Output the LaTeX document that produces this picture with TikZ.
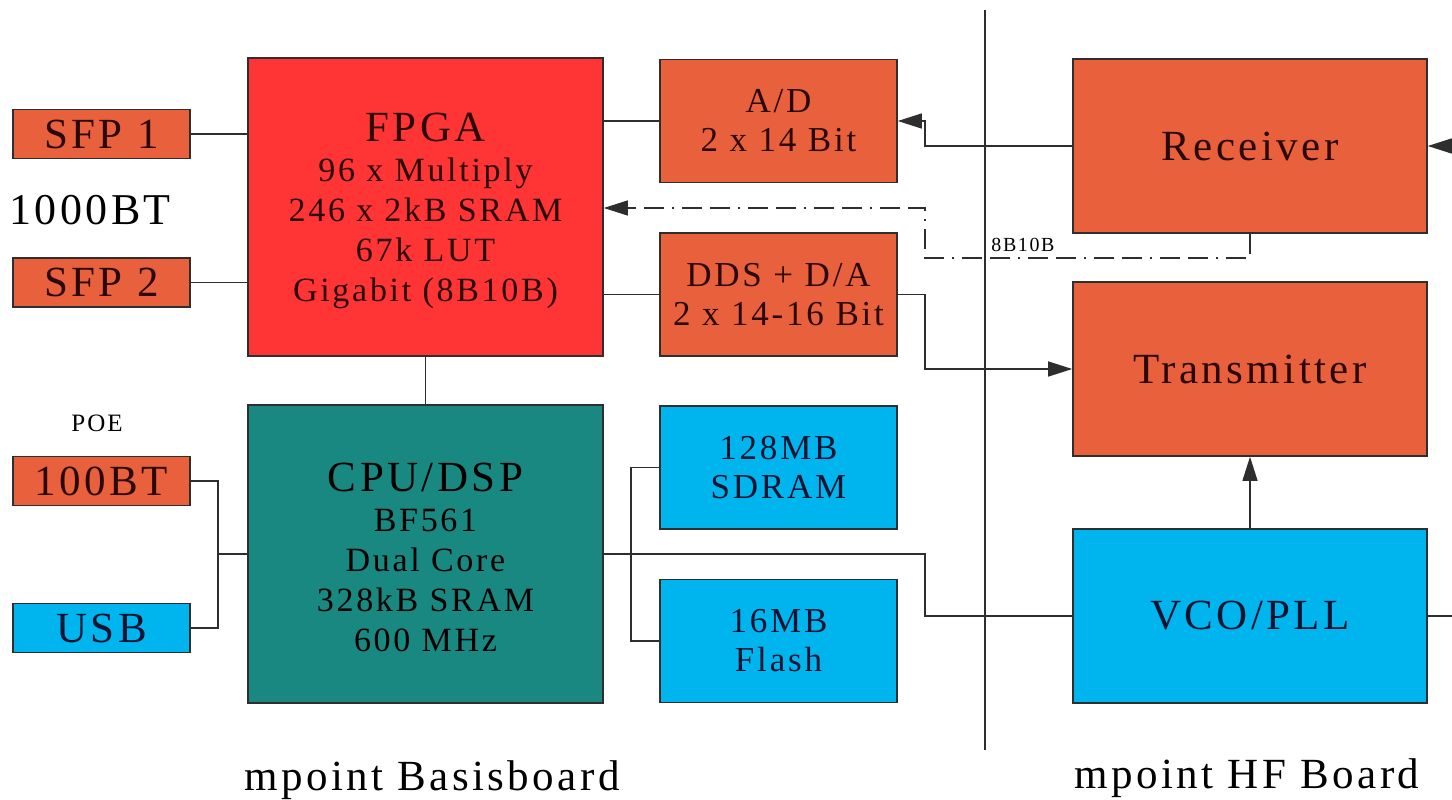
\documentclass[tikz,border=0pt]{standalone}
\usepackage{fontspec}
\setmainfont[LetterSpace=8]{Liberation Serif}
\usetikzlibrary{arrows.meta}
\definecolor{orng}{HTML}{E8603C}
\definecolor{fpgared}{HTML}{FF3434}
\definecolor{tealbox}{HTML}{188880}
\definecolor{skybox}{HTML}{00B4EE}
\definecolor{edgecol}{HTML}{2E2E2E}
\definecolor{inkred}{HTML}{2A0806}
\definecolor{inkblue}{HTML}{0A1430}

\begin{document}
\begin{tikzpicture}[x=1pt,y=-1pt,
  blk/.style={draw=edgecol, line width=1.6pt, inner sep=0pt, align=center, anchor=center},
  port/.style={blk, fill=orng, text=inkred, minimum width=177pt, minimum height=49pt, font=\fontsize{43}{43}\selectfont},
  portb/.style={port, fill=skybox, text=inkblue},
  chip/.style={blk, minimum width=355pt, minimum height=298pt, font=\fontsize{34}{40}\selectfont},
  mid/.style={blk, fill=orng, text=inkred, minimum width=237pt, minimum height=123pt, font=\fontsize{35}{39}\selectfont},
  midb/.style={mid, fill=skybox, text=inkblue},
  rf/.style={blk, fill=orng, text=inkred, minimum width=354pt, minimum height=174pt, font=\fontsize{43}{43}\selectfont},
  rfb/.style={rf, fill=skybox, text=inkblue},
  wire/.style={draw=edgecol, line width=1.3pt},
  sig/.style={wire, -{Triangle[length=24pt,width=15pt]}},
  dashdot/.style={wire, line width=1.1pt, dash pattern=on 20pt off 8pt on 20pt off 8pt on 2pt off 8pt},
  plain/.style={inner sep=0pt, text=black},
  ttl/.style={font=\fontsize{43}{43}\selectfont}
]
\useasboundingbox (0,0) rectangle (1452,800);
\fill[white] (0,0) rectangle (1452,800);

% interfaces on the left
\node[port]  (sfp1)  at (101.5,134) {SFP 1};
\node[port]  (sfp2)  at (101.5,282.5) {SFP 2};
\node[plain, font=\fontsize{44}{44}\selectfont] (gbe) at (90,210) {1000BT};
\node[plain, font=\fontsize{25}{25}\selectfont] (poe) at (97,423) {POE};
\node[port]  (fe)    at (101.5,481) {100BT};
\node[portb] (usb)   at (101.5,628) {USB};

% main processors (the strut lowers the text block a little)
\node[chip, fill=fpgared, text=inkred] (fpga) at (425.5,207)
  {\rule{0pt}{36pt}{\fontsize{43}{43}\selectfont FPGA}\\96 x Multiply\\246 x 2kB SRAM\\67k LUT\\Gigabit (8B10B)};
\node[chip, fill=tealbox, text=black] (cpu) at (425.5,554)
  {\rule{0pt}{36pt}{\fontsize{43}{43}\selectfont CPU/DSP}\\BF561\\Dual Core\\328kB SRAM\\600 MHz};

% converters and memory
\node[mid]  (adc)   at (778.5,121)   {A/D\\2 x 14 Bit};
\node[mid]  (dds)   at (778.5,294.5) {DDS + D/A\\2 x 14-16 Bit};
\node[midb] (sdram) at (778.5,467.5) {128MB\\SDRAM};
\node[midb] (flash) at (778.5,641)   {16MB\\Flash};

% HF board
\node[rf]  (rx)  at (1250,146) {Receiver};
\node[rf]  (tx)  at (1250,369) {Transmitter};
\node[rfb] (vco) at (1250,616) {VCO/PLL};

% board separator
\coordinate (septop) at (985,10);
\coordinate (sepbot) at (985,750);
\draw[wire] (septop) -- (sepbot);

% board names
\node[plain, ttl, anchor=base] (basis) at (432,790) {mpoint Basisboard};
\node[plain, ttl, anchor=base] (hfb)   at (1247,788) {mpoint HF Board};

% helper points for routing
\coordinate (hubL)  at (218,554);
\coordinate (membus) at (631,554);
\coordinate (rxbend) at (925,121);
\coordinate (d1) at (1250,258);
\coordinate (d2) at (925,258);
\coordinate (d3) at (925,208);
\coordinate (antin)  at (1452,146);
\coordinate (antout) at (1452,616);

% wiring on the base board
\draw[wire] (sfp1.east) -- (sfp1.east -| fpga.west);
\draw[wire] (sfp2.east) -- (sfp2.east -| fpga.west);
\draw[wire] (fe.east) -| (hubL) |- (usb.east);
\draw[wire] (hubL) -- (hubL -| cpu.west);
\draw[wire] (fpga.south) -- (cpu.north);
\draw[wire] (adc.west) -- (adc.west -| fpga.east);
\draw[wire] (dds.west) -- (dds.west -| fpga.east);
\draw[wire] (sdram.west) -| (membus) |- (flash.west);
\draw[wire] (hubL -| cpu.east) -- (925,554) |- (vco.west);

% signal paths to and from the HF board
\draw[sig] (rx.west) -| (rxbend) -- (adc.east);
\draw[sig] (dds.east) -- (925,294.5) |- (tx.west);
\draw[sig] (vco.north) -- (tx.south);
\draw[sig] (antin) -- (rx.east);
\draw[wire] (vco.east) -- (antout);

% serial link
\draw[dashdot, -{Triangle[length=24pt,width=15pt]}] (rx.south) -- (d1) -- (d2) -- (d3) -- (d3 -| fpga.east);
\node[plain, font=\fontsize{20}{20}\selectfont, anchor=base] (lnk) at (1023,251) {8B10B};
\end{tikzpicture}
\end{document}
